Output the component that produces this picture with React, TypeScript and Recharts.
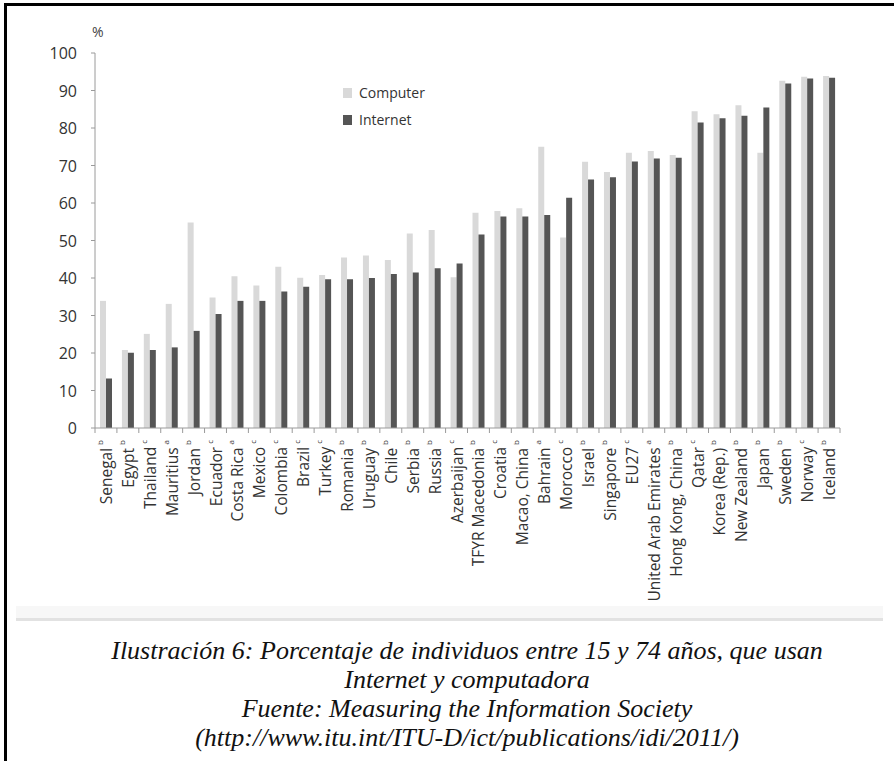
import { BarChart, Bar, XAxis, YAxis, Legend } from "recharts";

// paises (orden del grafico) y nota en superindice
const countries = [
  "Senegal", "Egypt", "Thailand", "Mauritius", "Jordan", "Ecuador", "Costa Rica",
  "Mexico", "Colombia", "Brazil", "Turkey", "Romania", "Uruguay", "Chile", "Serbia",
  "Russia", "Azerbaijan", "TFYR Macedonia", "Croatia", "Macao, China", "Bahrain",
  "Morocco", "Israel", "Singapore", "EU27", "United Arab Emirates", "Hong Kong, China",
  "Qatar", "Korea (Rep.)", "New Zealand", "Japan", "Sweden", "Norway", "Iceland",
];
const notes = [
  "b", "b", "c", "a", "b", "c", "a", "c", "c", "c", "c", "b", "b", "b", "b", "b", "c",
  "b", "c", "b", "a", "c", "b", "b", "c", "a", "b", "c", "b", "b", "b", "b", "c", "b",
];
const computer = [
  33.9, 20.8, 25.1, 33.1, 54.8, 34.8, 40.5, 38.0, 43.0, 40.1, 40.8, 45.5, 46.0, 44.8,
  51.9, 52.8, 40.2, 57.4, 57.9, 58.6, 75.0, 50.8, 71.0, 68.3, 73.4, 73.9, 72.8, 84.5,
  83.7, 86.1, 73.4, 92.6, 93.7, 93.9,
];
const internet = [
  13.2, 20.1, 20.8, 21.5, 25.9, 30.4, 33.9, 33.9, 36.4, 37.7, 39.7, 39.7, 40.0, 41.1,
  41.5, 42.6, 43.9, 51.6, 56.4, 56.4, 56.8, 61.4, 66.3, 66.9, 71.1, 71.9, 72.1, 81.5,
  82.6, 83.3, 85.5, 91.9, 93.2, 93.4,
];
const yTicks = [0, 10, 20, 30, 40, 50, 60, 70, 80, 90, 100];

const data = countries.map((name, i) => ({
  name,
  Computer: computer[i],
  Internet: internet[i],
}));

const FONT = "'Open Sans', sans-serif";
const PLOT_LEFT = 95;
const PLOT_RIGHT = 840;
const STEP = (PLOT_RIGHT - PLOT_LEFT) / countries.length;

function CountryTick(props: any) {
  const { x, y, payload } = props;
  const i = countries.indexOf(payload.value);
  return (
    <g>
      <line x1={x - STEP / 2} y1={y} x2={x - STEP / 2} y2={y + 5} stroke="#9a9a9a" />
      {i === countries.length - 1 && (
        <line x1={x + STEP / 2} y1={y} x2={x + STEP / 2} y2={y + 5} stroke="#9a9a9a" />
      )}
      <text
        transform={`translate(${x},${y + 12}) rotate(-90)`}
        textAnchor="end"
        dominantBaseline="central"
        fontSize={15.5}
        fill="#333"
        fontFamily={FONT}
      >
        {payload.value}
        <tspan fontSize={8} dy={-7} dx={3}>{notes[i]}</tspan>
      </text>
    </g>
  );
}

function ValueTick(props: any) {
  const { x, y, payload } = props;
  return (
    <text x={x} y={y} textAnchor="end" dominantBaseline="central" fontSize={16} fill="#333" fontFamily={FONT}>
      {payload.value}
    </text>
  );
}

function LegendBox(props: any) {
  const items = props.payload || [];
  return (
    <div style={{ fontFamily: FONT, fontSize: 14, color: "#333" }}>
      {items.map((it: any) => (
        <div key={it.value} style={{ display: "flex", alignItems: "center", height: 27 }}>
          <span style={{ width: 9, height: 10, background: it.color, marginRight: 7 }} />
          <span>{it.value}</span>
        </div>
      ))}
    </div>
  );
}

export default function App() {
  return (
    <div style={{ position: "absolute", left: 0, top: 0, width: 894, height: 761, background: "#fff", overflow: "hidden" }}>
      {/* marco negro arriba / izquierda */}
      <div style={{ position: "absolute", left: 4, top: 3, width: 890, height: 758, borderTop: "3px solid #000", borderLeft: "3px solid #000", boxSizing: "border-box" }} />
      {/* banda gris bajo el grafico */}
      <div style={{ position: "absolute", left: 16, top: 606, width: 867, height: 12, background: "#f7f7f7", borderBottom: "3px solid #e2e2e2" }} />

      <div style={{ position: "absolute", left: 92, top: 22, fontFamily: FONT, fontSize: 14, color: "#444" }}>%</div>

      <div style={{ position: "absolute", left: 0, top: 0 }}>
        <BarChart
          width={894}
          height={612}
          data={data}
          margin={{ top: 53, right: 894 - PLOT_RIGHT, left: 35, bottom: 4 }}
          barGap={0}
          barSize={6}
        >
          <XAxis
            dataKey="name"
            interval={0}
            height={180}
            tickSize={0}
            tickMargin={0}
            tickLine={false}
            axisLine={{ stroke: "#9a9a9a" }}
            tick={<CountryTick />}
          />
          <YAxis
            domain={[0, 100]}
            ticks={yTicks}
            interval={0}
            width={60}
            tickSize={4}
            tickMargin={14}
            axisLine={{ stroke: "#9a9a9a" }}
            tickLine={{ stroke: "#9a9a9a" }}
            tick={<ValueTick />}
          />
          <Legend
            layout="vertical"
            align="center"
            verticalAlign="middle"
            content={<LegendBox />}
            wrapperStyle={{ left: 343, top: 79, width: 130 }}
          />
          <Bar dataKey="Computer" fill="#d9d9d9" isAnimationActive={false} />
          <Bar dataKey="Internet" fill="#555555" isAnimationActive={false} />
        </BarChart>
      </div>

      <div
        style={{
          position: "absolute",
          left: 40,
          top: 636,
          width: 854,
          textAlign: "center",
          fontFamily: "'Liberation Serif', serif",
          fontStyle: "italic",
          fontSize: 26,
          lineHeight: "29px",
          color: "#111",
        }}
      >
        <div>Ilustración 6: Porcentaje de individuos entre 15 y 74 años, que usan</div>
        <div>Internet y computadora</div>
        <div>Fuente: Measuring the Information Society</div>
        <div>(http://www.itu.int/ITU-D/ict/publications/idi/2011/)</div>
      </div>
    </div>
  );
}
